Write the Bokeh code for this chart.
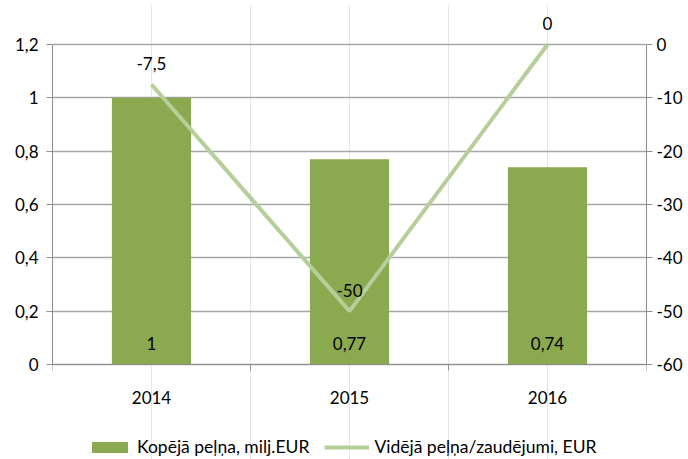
from bokeh.plotting import figure
from bokeh.models import Range1d, LinearAxis, FixedTicker, Legend, LegendItem
from bokeh.embed import file_html
from bokeh.resources import INLINE
from bokeh.core.properties import value

years = ["2014", "2015", "2016"]
total_profit = [1, 0.77, 0.74]
avg_profit = [-7.5, -50, 0]
left_ticks = [0, 0.2, 0.4, 0.6, 0.8, 1.0, 1.2]
right_ticks = [-60, -50, -40, -30, -20, -10, 0]
bar_labels = ["1", "0,77", "0,74"]
line_labels = ["-7,5", "-50", "0"]
bar_name = "Kopējā peļņa, milj.EUR"
line_name = "Vidējā peļņa/zaudējumi, EUR"

FONT = "Lato"
FS = "17px"
BAR_COLOR = "#8BA94F"
LINE_COLOR = "#B5CF9B"
GRID = "#A6A6A6"
AXIS = "#8C8C8C"

# pixel layout: value axes span AXIS_PX; frame extends ABOVE_PX above and BELOW_PX below
AXIS_PX = 320
ABOVE_PX = 40
BELOW_PX = 95


def fmt(v):
    return ("%g" % v).replace(".", ",")


x = [i + 0.5 for i in range(len(years))]
bounds = [i for i in range(len(years) + 1)]

l0, l1 = left_ticks[0], left_ticks[-1]
r0, r1 = right_ticks[0], right_ticks[-1]
lpp = (l1 - l0) / AXIS_PX
rpp = (r1 - r0) / AXIS_PX

p = figure(frame_width=594, frame_height=AXIS_PX + ABOVE_PX + BELOW_PX,
           x_range=Range1d(0, len(years)),
           y_range=Range1d(l0 - BELOW_PX * lpp, l1 + ABOVE_PX * lpp),
           x_axis_location=None,
           output_backend="svg", toolbar_location=None,
           min_border_left=52, min_border_right=34, min_border_top=4, min_border_bottom=0)
p.extra_y_ranges = {"r": Range1d(r0 - BELOW_PX * rpp, r1 + ABOVE_PX * rpp)}
p.outline_line_color = None
p.background_fill_color = "white"
p.border_fill_color = "white"

# x axis drawn at the value-axis zero line
xa = LinearAxis(fixed_location=l0, ticker=FixedTicker(ticks=x, minor_ticks=bounds))
xa.major_label_overrides = {xi: y for xi, y in zip(x, years)}
xa.major_tick_in = 0
xa.major_tick_out = 0
xa.minor_tick_in = 0
xa.minor_tick_out = 6
xa.minor_tick_line_color = AXIS
xa.axis_line_color = AXIS
xa.major_label_text_font = FONT
xa.major_label_text_font_size = FS
xa.major_label_text_color = "black"
xa.major_label_standoff = 20
p.add_layout(xa, "below")

# left axis
ya = p.yaxis[0]
ya.ticker = FixedTicker(ticks=left_ticks)
ya.bounds = (l0, l1)
ya.major_label_overrides = {t: fmt(t) for t in left_ticks}
ya.major_tick_in = 0
ya.major_tick_out = 6
ya.minor_tick_out = 0
ya.minor_tick_in = 0
ya.major_tick_line_color = AXIS
ya.axis_line_color = AXIS
ya.major_label_text_font = FONT
ya.major_label_text_font_size = FS
ya.major_label_text_color = "black"
ya.major_label_standoff = 8

# right axis
ra = LinearAxis(y_range_name="r", ticker=FixedTicker(ticks=right_ticks), bounds=(r0, r1))
ra.major_label_overrides = {t: fmt(t) for t in right_ticks}
ra.major_tick_in = 0
ra.major_tick_out = 6
ra.minor_tick_out = 0
ra.minor_tick_in = 0
ra.major_tick_line_color = AXIS
ra.axis_line_color = AXIS
ra.major_label_text_font = FONT
ra.major_label_text_font_size = FS
ra.major_label_text_color = "black"
ra.major_label_standoff = 4
p.add_layout(ra, "right")

p.ygrid.ticker = FixedTicker(ticks=left_ticks)
p.ygrid.grid_line_color = GRID
p.ygrid.grid_line_width = 1.3

bars = p.vbar(x=x, top=total_profit, bottom=l0, width=0.4, fill_color=BAR_COLOR, line_color=None)
line = p.line(x, avg_profit, y_range_name="r", line_color=LINE_COLOR, line_width=4)

p.text(x=x, y=[l0] * len(x), text=bar_labels, text_align="center",
       text_baseline="middle", y_offset=-21, text_font=value(FONT),
       text_font_size=FS, text_color="black")
p.text(x=x, y=avg_profit, y_range_name="r", text=line_labels, text_align="center",
       text_baseline="middle", y_offset=-21, text_font=value(FONT),
       text_font_size=FS, text_color="black")

legend = Legend(items=[LegendItem(label=bar_name, renderers=[bars]),
                       LegendItem(label=line_name, renderers=[line])],
                orientation="horizontal", location=(35, 2))
legend.border_line_color = None
legend.background_fill_alpha = 0
legend.label_text_font = FONT
legend.label_text_font_size = "17.5px"
legend.label_text_color = "black"
legend.glyph_width = 45
legend.glyph_height = 14
legend.label_height = 14
legend.spacing = 15
legend.padding = 0
legend.margin = 0
legend.label_standoff = 5
p.add_layout(legend, "center")

open("out.html", "w").write(file_html(p, INLINE))
